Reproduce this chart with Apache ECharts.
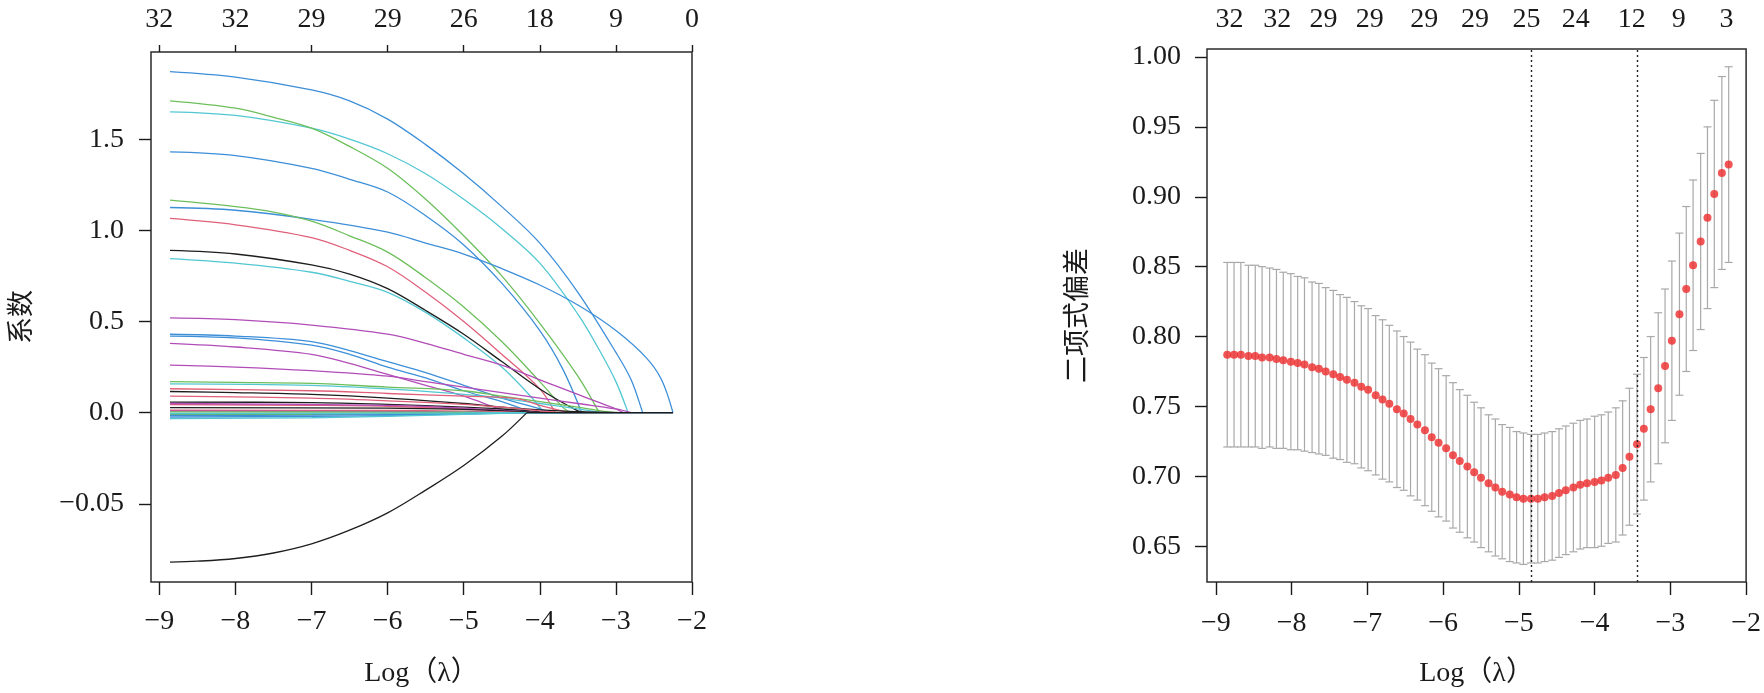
<!DOCTYPE html>
<html>
<head>
<meta charset="utf-8">
<title>LASSO</title>
<script src="https://cdn.jsdelivr.net/npm/echarts@6/dist/echarts.min.js"></script>
<style>
  html, body { margin: 0; padding: 0; background: #fff; }
  #main { width: 1764px; height: 693px; }
</style>
</head>
<body>
<div id="main"></div>
<script>
// 左图：系数路径
const logLambdaTicks = [-9, -8, -7, -6, -5, -4, -3, -2];
const pathTopCounts = ['32', '32', '29', '29', '26', '18', '9', '0'];
const coefTicks = [-0.5, 0, 0.5, 1.0, 1.5];

// 每条路径 [log(lambda), 系数]
const coefPaths = [
  [[-8.86,1.87],[-8,1.84],[-7,1.77],[-6.5,1.71],[-6,1.61],[-5.5,1.47],[-5,1.31],[-4.5,1.13],[-4,0.93],[-3.5,0.66],[-3,0.33],[-2.8,0.18],[-2.65,0],[-2.25,0]],
  [[-8.86,1.65],[-8,1.63],[-7,1.56],[-6.5,1.50],[-6,1.42],[-5.5,1.31],[-5,1.17],[-4.5,1.01],[-4,0.82],[-3.5,0.54],[-3.2,0.33],[-3,0.17],[-2.84,0],[-2.25,0]],
  [[-8.86,1.71],[-8,1.67],[-7.5,1.62],[-7,1.56],[-6.5,1.46],[-6,1.34],[-5.5,1.17],[-5,0.97],[-4.5,0.75],[-4,0.49],[-3.5,0.20],[-3.22,0],[-2.25,0]],
  [[-8.86,1.43],[-8,1.41],[-7,1.34],[-6.5,1.28],[-6,1.21],[-5.5,1.08],[-5,0.92],[-4.5,0.71],[-4,0.45],[-3.7,0.24],[-3.45,0],[-2.25,0]],
  [[-8.86,1.125],[-8,1.11],[-7,1.06],[-6,0.99],[-5.5,0.93],[-5,0.87],[-4.5,0.79],[-4,0.70],[-3.5,0.59],[-3,0.45],[-2.6,0.30],[-2.4,0.18],[-2.25,0]],
  [[-8.86,1.165],[-8,1.13],[-7.5,1.10],[-7,1.05],[-6.5,0.97],[-6,0.88],[-5.5,0.74],[-5,0.58],[-4.5,0.39],[-4,0.17],[-3.7,0.03],[-3.6,0],[-2.25,0]],
  [[-8.86,1.065],[-8,1.03],[-7,0.96],[-6.5,0.89],[-6,0.80],[-5.5,0.66],[-5,0.50],[-4.5,0.32],[-4,0.13],[-3.8,0],[-2.25,0]],
  [[-8.86,0.89],[-8,0.87],[-7,0.81],[-6.5,0.76],[-6,0.68],[-5.5,0.56],[-5,0.43],[-4.5,0.28],[-4,0.13],[-3.5,0.01],[-3.4,0],[-2.25,0]],
  [[-8.86,0.845],[-8,0.82],[-7,0.77],[-6.5,0.72],[-6,0.66],[-5.5,0.55],[-5,0.41],[-4.5,0.25],[-4.1,0.08],[-3.95,0],[-2.25,0]],
  [[-8.86,0.52],[-8,0.51],[-7,0.48],[-6,0.43],[-5.5,0.38],[-5,0.32],[-4.5,0.26],[-4,0.18],[-3.5,0.10],[-3.25,0.06],[-3,0.02],[-2.9,0],[-2.25,0]],
  [[-8.86,0.43],[-8,0.42],[-7,0.39],[-6.5,0.34],[-6,0.28],[-5.5,0.22],[-5,0.15],[-4.5,0.08],[-4,0.02],[-3.85,0],[-2.25,0]],
  [[-8.86,0.42],[-8,0.41],[-7,0.37],[-6.5,0.32],[-6,0.25],[-5.5,0.19],[-5,0.12],[-4.5,0.06],[-4.1,0],[-2.25,0]],
  [[-8.86,0.38],[-8,0.36],[-7,0.32],[-6.5,0.27],[-6,0.21],[-5.5,0.15],[-5,0.09],[-4.6,0.03],[-4.4,0],[-2.25,0]],
  [[-8.86,0.26],[-8,0.25],[-7,0.23],[-6,0.20],[-5.5,0.17],[-5,0.14],[-4.5,0.11],[-4,0.08],[-3.5,0.05],[-3,0.02],[-2.8,0],[-2.25,0]],
  [[-8.86,0.17],[-8,0.166],[-7,0.16],[-6,0.14],[-5,0.12],[-4.5,0.09],[-4,0.06],[-3.5,0.03],[-3.2,0.01],[-3,0],[-2.25,0]],
  [[-8.86,0.158],[-7,0.15],[-6,0.13],[-5,0.10],[-4.5,0.08],[-4,0.05],[-3.5,0.02],[-3.2,0],[-2.25,0]],
  [[-8.86,0.131],[-7,0.12],[-6,0.105],[-5,0.09],[-4.3,0.077],[-4,0.04],[-3.6,0],[-2.25,0]],
  [[-8.86,0.116],[-8,0.11],[-7,0.10],[-6,0.08],[-5,0.05],[-4.5,0.03],[-4,0.015],[-3.5,0.005],[-2.9,0],[-2.25,0]],
  [[-8.86,0.058],[-7,0.055],[-6,0.045],[-5,0.03],[-4.5,0.02],[-4,0.005],[-3.8,0],[-2.25,0]],
  [[-8.86,0.044],[-7,0.04],[-6,0.035],[-5,0.02],[-4.3,0.005],[-4.1,0],[-2.25,0]],
  [[-8.86,0.05],[-6,0.04],[-5,0.025],[-4.4,0.01],[-4,0],[-2.25,0]],
  [[-8.86,0.027],[-6,0.025],[-5,0.018],[-4.5,0.01],[-4,0],[-2.25,0]],
  [[-8.86,0.013],[-6,0.012],[-5,0.008],[-4.5,0.004],[-4.2,0],[-2.25,0]],
  [[-8.86,0.008],[-6,0.006],[-5,0.003],[-4.6,0],[-2.25,0]],
  [[-8.86,0.004],[-6,0.003],[-5,0.002],[-4.5,0],[-2.25,0]],
  [[-8.86,-0.01],[-7,-0.009],[-6,-0.006],[-5,-0.003],[-4.5,0],[-2.25,0]],
  [[-8.86,-0.015],[-7,-0.014],[-6,-0.011],[-5,-0.006],[-4.3,0],[-2.25,0]],
  [[-8.86,-0.024],[-7,-0.021],[-6,-0.016],[-5,-0.008],[-4.4,0],[-2.25,0]],
  [[-8.86,-0.033],[-7,-0.028],[-6,-0.02],[-5,-0.01],[-4.2,0],[-2.25,0]],
  [[-8.86,-0.004],[-7,-0.004],[-6,-0.003],[-5,-0.002],[-4.6,0],[-2.25,0]],
  [[-8.86,0.09],[-7,0.08],[-6,0.065],[-5,0.045],[-4.5,0.03],[-4,0.01],[-3.7,0],[-2.25,0]],
  [[-8.86,-0.82],[-8.5,-0.815],[-8,-0.80],[-7.5,-0.77],[-7,-0.72],[-6.5,-0.645],[-6,-0.55],[-5.5,-0.425],[-5,-0.29],[-4.5,-0.13],[-4.17,0],[-2.25,0]]
];

const BLUE = '#3d8fd8', CYAN = '#52c7d2', GREEN = '#6dbf5c', RED = '#e0607a', BLACK = '#1e1e1e', PURPLE = '#b24db8';
const pathColors = [
  BLUE, CYAN, GREEN, BLUE, BLUE, GREEN, RED, BLACK, CYAN, PURPLE,
  BLUE, BLUE, PURPLE, PURPLE, GREEN, CYAN, RED, BLACK, BLACK, RED,
  PURPLE, BLACK, RED, PURPLE, GREEN, GREEN, BLUE, BLUE, CYAN, CYAN,
  RED, BLACK
];

// 右图：交叉验证二项式偏差
const cvLogLambda = [
  -8.85,-8.76,-8.67,-8.57,-8.48,-8.39,-8.29,-8.20,-8.11,-8.01,
  -7.92,-7.83,-7.73,-7.64,-7.55,-7.45,-7.36,-7.27,-7.17,-7.08,
  -6.99,-6.89,-6.80,-6.71,-6.61,-6.52,-6.43,-6.34,-6.24,-6.15,
  -6.06,-5.96,-5.87,-5.78,-5.68,-5.59,-5.50,-5.40,-5.31,-5.22,
  -5.12,-5.03,-4.94,-4.84,-4.75,-4.66,-4.56,-4.47,-4.38,-4.28,
  -4.19,-4.10,-4.00,-3.91,-3.82,-3.72,-3.63,-3.54,-3.44,-3.35,
  -3.26,-3.16,-3.07,-2.98,-2.88,-2.79,-2.70,-2.60,-2.51,-2.42,
  -2.32,-2.23
];
const cvMean = [
  0.787,0.787,0.787,0.786,0.786,0.785,0.785,0.784,0.783,0.782,
  0.781,0.780,0.778,0.777,0.775,0.773,0.771,0.769,0.767,0.764,
  0.762,0.758,0.755,0.752,0.748,0.745,0.741,0.737,0.733,0.728,
  0.724,0.720,0.715,0.711,0.707,0.703,0.699,0.695,0.692,0.689,
  0.687,0.685,0.684,0.684,0.684,0.685,0.686,0.688,0.690,0.692,
  0.694,0.695,0.696,0.697,0.699,0.701,0.706,0.714,0.723,0.734,
  0.748,0.763,0.779,0.797,0.816,0.834,0.851,0.868,0.885,0.902,
  0.917,0.923
];
const cvSd = [
  0.066,0.066,0.066,0.065,0.065,0.065,0.064,0.064,0.063,0.063,
  0.062,0.062,0.061,0.061,0.060,0.060,0.059,0.059,0.058,0.058,
  0.058,0.057,0.057,0.056,0.056,0.055,0.055,0.054,0.054,0.053,
  0.053,0.052,0.052,0.051,0.051,0.050,0.050,0.049,0.049,0.048,
  0.048,0.047,0.047,0.046,0.046,0.046,0.046,0.046,0.046,0.046,
  0.046,0.046,0.047,0.047,0.047,0.048,0.048,0.049,0.050,0.051,
  0.052,0.054,0.055,0.057,0.058,0.059,0.061,0.063,0.065,0.067,
  0.069,0.070
];
const cvTopPos = [-8.82, -8.19, -7.58, -6.97, -6.25, -5.58, -4.90, -4.25, -3.51, -2.89, -2.26];
const cvTopCounts = ['32', '32', '29', '29', '29', '29', '25', '24', '12', '9', '3'];
const lambdaMin = -4.84;
const lambda1se = -3.44;
const devTicks = [0.65, 0.70, 0.75, 0.80, 0.85, 0.90, 0.95, 1.00];

const FONT = "'Liberation Serif', 'Times New Roman', serif";
const INK = '#1a1a1a';
const minus = s => String(s).replace('-', '\u2212');

function nearestLabel(pos, labels, v) {
  let best = 0;
  for (let i = 1; i < pos.length; i++) {
    if (Math.abs(pos[i] - v) < Math.abs(pos[best] - v)) best = i;
  }
  return labels[best];
}

const tickStyle = { color: INK, width: 1.4 };
const labelBase = { color: INK, fontFamily: FONT, fontSize: 28 };

const chart = echarts.init(document.getElementById('main'), null, { renderer: 'canvas' });

// 曲线部分平滑，归零之后沿 0 线走直线
const lineSeries = [];
coefPaths.forEach((p, i) => {
  let k = p.findIndex((d, j) => j > 0 && d[1] === 0);
  if (k < 0) k = p.length - 1;
  const common = {
    type: 'line', xAxisIndex: 0, yAxisIndex: 0,
    showSymbol: false, symbol: 'none', silent: true,
    lineStyle: { color: pathColors[i], width: 1.3 },
    z: i === 31 ? 5 : 2
  };
  lineSeries.push(Object.assign({}, common, { data: p.slice(0, k + 1), smooth: 0.35 }));
  lineSeries.push(Object.assign({}, common, { data: p.slice(k) }));
});

const option = {
  animation: false,
  grid: [
    { left: 151, top: 52, width: 541, height: 532, show: true, borderColor: '#2b2b2b', borderWidth: 1.5 },
    { left: 1207, top: 49, width: 546, height: 536, show: true, borderColor: '#2b2b2b', borderWidth: 1.5 }
  ],
  xAxis: [
    {
      type: 'value', gridIndex: 0, min: -9.11, max: -2.0, position: 'bottom',
      axisLine: { show: false, onZero: false }, splitLine: { show: false },
      axisTick: { show: true, length: 13, lineStyle: tickStyle, customValues: logLambdaTicks },
      axisLabel: Object.assign({ margin: 26, customValues: logLambdaTicks, formatter: v => minus(v) }, labelBase),
      name: 'Log（λ）', nameLocation: 'middle', nameGap: 78,
      nameTextStyle: { color: INK, fontFamily: FONT.replace('serif', "serif, 'Noto Sans CJK SC'"), fontSize: 28 }
    },
    {
      type: 'value', gridIndex: 0, min: -9.11, max: -2.0, position: 'top',
      axisLine: { show: false, onZero: false }, splitLine: { show: false },
      axisTick: { show: true, length: 7, lineStyle: tickStyle, customValues: logLambdaTicks },
      axisLabel: Object.assign({ margin: 18, customValues: logLambdaTicks,
        formatter: v => nearestLabel(logLambdaTicks, pathTopCounts, v) }, labelBase)
    },
    {
      type: 'value', gridIndex: 1, min: -9.117, max: -2.0, position: 'bottom',
      axisLine: { show: false, onZero: false }, splitLine: { show: false },
      axisTick: { show: true, length: 13, lineStyle: tickStyle, customValues: logLambdaTicks },
      axisLabel: Object.assign({ margin: 28, customValues: logLambdaTicks, formatter: v => minus(v) }, labelBase),
      name: 'Log（λ）', nameLocation: 'middle', nameGap: 78,
      nameTextStyle: { color: INK, fontFamily: FONT.replace('serif', "serif, 'Noto Sans CJK SC'"), fontSize: 28 }
    },
    {
      type: 'value', gridIndex: 1, min: -9.117, max: -2.0, position: 'top',
      axisLine: { show: false, onZero: false }, splitLine: { show: false },
      axisTick: { show: false },
      axisLabel: Object.assign({ margin: 15, customValues: cvTopPos,
        formatter: v => nearestLabel(cvTopPos, cvTopCounts, v) }, labelBase)
    }
  ],
  yAxis: [
    {
      type: 'value', gridIndex: 0, min: -0.929, max: 1.978,
      axisLine: { show: false, onZero: false }, splitLine: { show: false },
      axisTick: { show: true, length: 12, lineStyle: tickStyle, customValues: coefTicks },
      axisLabel: Object.assign({ margin: 27, customValues: coefTicks,
        formatter: v => (Math.abs(v + 0.5) < 1e-9 ? '\u22120.05' : v.toFixed(1)) }, labelBase),
      name: '系数', nameLocation: 'middle', nameGap: 118,
      nameTextStyle: { color: INK, fontFamily: 'Noto Sans CJK SC', fontSize: 27 }
    },
    {
      type: 'value', gridIndex: 1, min: 0.6244, max: 1.0057,
      axisLine: { show: false, onZero: false }, splitLine: { show: false },
      axisTick: { show: true, length: 12, lineStyle: tickStyle, customValues: devTicks },
      axisLabel: Object.assign({ margin: 26, customValues: devTicks, formatter: v => v.toFixed(2) }, labelBase),
      name: '二项式偏差', nameLocation: 'middle', nameGap: 118,
      nameTextStyle: { color: INK, fontFamily: 'Noto Sans CJK SC', fontSize: 27 }
    }
  ],
  series: lineSeries.concat([
    {
      type: 'custom',
      xAxisIndex: 2,
      yAxisIndex: 1,
      silent: true,
      data: cvLogLambda.map((x, i) => [x, cvMean[i] - cvSd[i], cvMean[i] + cvSd[i]]),
      encode: { x: 0, y: [1, 2] },
      renderItem: function (params, api) {
        const x = api.value(0);
        const lo = api.coord([x, api.value(1)]);
        const hi = api.coord([x, api.value(2)]);
        const w = 4;
        const st = { stroke: '#a9a9a9', lineWidth: 1.2 };
        return {
          type: 'group',
          children: [
            { type: 'line', shape: { x1: hi[0], y1: hi[1], x2: lo[0], y2: lo[1] }, style: st },
            { type: 'line', shape: { x1: hi[0] - w, y1: hi[1], x2: hi[0] + w, y2: hi[1] }, style: st },
            { type: 'line', shape: { x1: lo[0] - w, y1: lo[1], x2: lo[0] + w, y2: lo[1] }, style: st }
          ]
        };
      },
      z: 2
    },
    {
      type: 'scatter',
      xAxisIndex: 2,
      yAxisIndex: 1,
      silent: true,
      data: cvLogLambda.map((x, i) => [x, cvMean[i]]),
      symbol: 'circle',
      symbolSize: 8,
      itemStyle: { color: '#ee2b2b' },
      markLine: {
        silent: true,
        symbol: 'none',
        label: { show: false },
        lineStyle: { color: '#222', type: [2, 3], width: 1.4 },
        data: [{ xAxis: lambdaMin }, { xAxis: lambda1se }]
      },
      z: 4
    }
  ])
};

chart.setOption(option);
</script>
</body>
</html>
